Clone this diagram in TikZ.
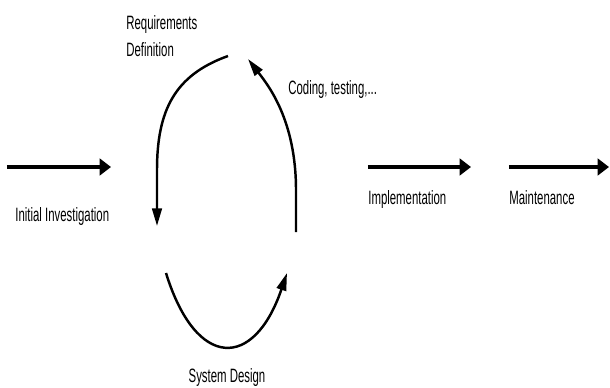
\documentclass[tikz,border=0pt]{standalone}
\usepackage{fontspec}
\usepackage{tikz,tkz-euclide}
\usetikzlibrary{arrows.meta}
\newfontfamily\labelfont[FakeStretch=0.59]{Liberation Sans}

\tikzset{
  phase/.style={font=\labelfont\fontsize{11}{15.4}\selectfont, inner sep=0pt},
  stagearrow/.style={line width=2.5pt, -{Triangle[length=6.5pt,width=9.5pt]}},
  cyclearrow/.style={line width=1.4pt, -{Triangle[length=10pt,width=5.5pt]}}
}

\begin{document}
\begin{tikzpicture}[x=0.02cm,y=0.02cm]
    \useasboundingbox (0,0) rectangle (610,387);
    % straight stages
    \tkzDefPoint(7,220){I1}
    \tkzDefPoint(111,220){I2}
    \tkzDefPoint(368,220){M1}
    \tkzDefPoint(471,220){M2}
    \tkzDefPoint(509,220){N1}
    \tkzDefPoint(609,220){N2}
    % the loop
    \tkzDefPoint(228,331){L1}
    \tkzDefPoint(175,312){L2}
    \tkzDefPoint(157,277){L3}
    \tkzDefPoint(157,217){L4}
    \tkzDefPoint(157,161){L5}
    \tkzDefPoint(166,114){B1}
    \tkzDefPoint(196,17){B2}
    \tkzDefPoint(254,17){B3}
    \tkzDefPoint(287,114){B4}
    \tkzDefPoint(296,155){R1}
    \tkzDefPoint(296,197){R2}
    \tkzDefPoint(296,267){R3}
    \tkzDefPoint(268,302){R4}
    \tkzDefPoint(248,328){R5}
    \draw[stagearrow] (I1) -- (I2);
    \draw[stagearrow] (M1) -- (M2);
    \draw[stagearrow] (N1) -- (N2);
    \draw[cyclearrow] (L1) .. controls (L2) and (L3) .. (L4) -- (L5);
    \draw[cyclearrow] (B1) .. controls (B2) and (B3) .. (B4);
    \draw[cyclearrow] (R1) -- (R2) .. controls (R3) and (R4) .. (R5);
    % labels
    \node[phase, anchor=base west] (init) at (15,166) {Initial Investigation};
    \node[phase, anchor=north west, align=left] (req) at (126,372) {Requirements\\Definition};
    \node[phase, anchor=base west] (code) at (288,293) {Coding, testing,...};
    \node[phase, anchor=base] (design) at (227,5) {System Design};
    \node[phase, anchor=base west] (impl) at (368,183) {Implementation};
    \node[phase, anchor=base west] (maint) at (509,183) {Maintenance};
\end{tikzpicture}
\end{document}
